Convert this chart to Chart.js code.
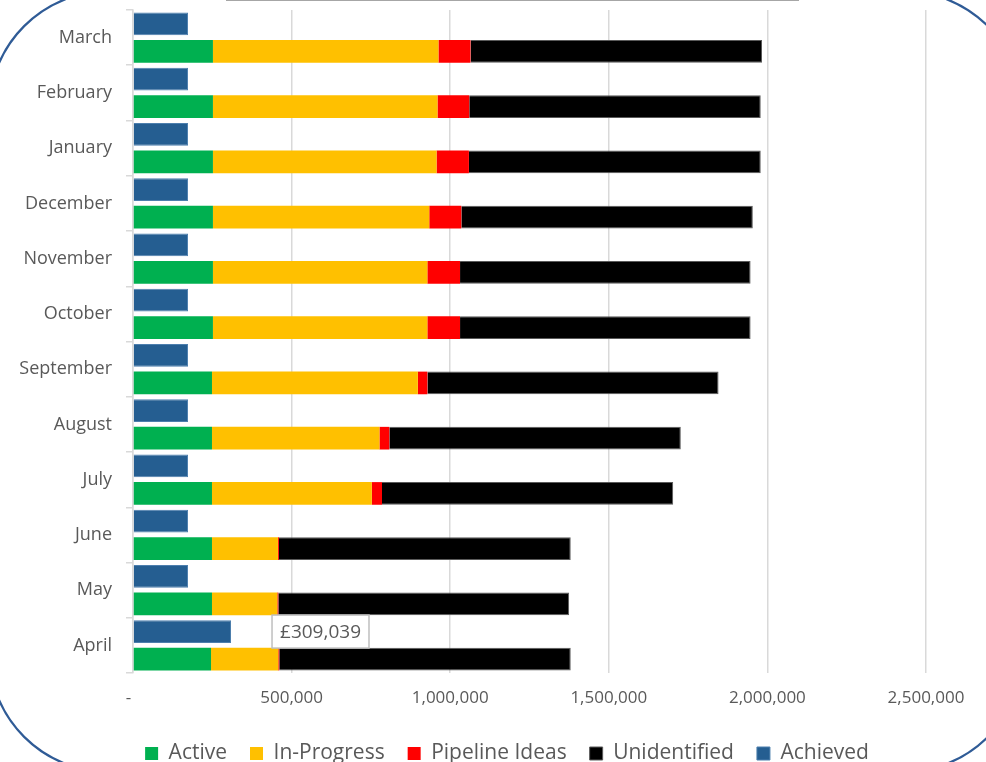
<!DOCTYPE html>
<html>
<head>
<meta charset="utf-8">
<script src="https://cdn.jsdelivr.net/npm/chart.js@4.4.1/dist/chart.umd.min.js"></script>
<style>
  html, body { margin: 0; padding: 0; background: #fff; }
  #wrap { position: relative; width: 986px; height: 762px; }
</style>
</head>
<body>
<div id="wrap"><canvas id="targetChart"></canvas></div>
<script>
const months = ["April", "May", "June", "July", "August", "September", "October", "November", "December", "January", "February", "March"];

const active = [246000, 249000, 249000, 249000, 249000, 249000, 252000, 252000, 252000, 252000, 252000, 252000];
const inProgress = [212000, 206000, 208000, 504000, 528000, 649000, 676000, 676000, 682000, 705000, 708000, 711000];
const pipelineIdeas = [3000, 3000, 3000, 32000, 31000, 30000, 103000, 103000, 101000, 102000, 100000, 101000];
const unidentified = [919000, 917000, 920000, 918000, 919000, 918000, 916000, 916000, 919000, 920000, 919000, 919000];
const achieved = [309039, 173500, 173500, 173500, 173500, 173500, 173500, 173500, 173500, 173500, 173500, 173500];

const xTicks = [0, 500000, 1000000, 1500000, 2000000, 2500000];

const textColor = '#595959';
const gridColor = '#d9d9d9';

window.onload = function() {
  // page frame: rounded outline and the top rule
  const framePlugin = {
    id: 'frame',
    beforeDraw(chart) {
      const ctx = chart.ctx;
      ctx.save();
      ctx.fillStyle = '#fff';
      ctx.fillRect(0, 0, chart.width, chart.height);
      ctx.strokeStyle = '#2f5b96';
      ctx.lineWidth = 2.2;
      ctx.beginPath();
      ctx.roundRect(-11, -9, 1034, 781, 120);
      ctx.stroke();
      ctx.strokeStyle = '#a6a6a6';
      ctx.lineWidth = 2;
      ctx.beginPath();
      ctx.moveTo(226, 0);
      ctx.lineTo(799, 0);
      ctx.stroke();
      ctx.restore();
    },
    afterLayout(chart) {
      const lg = chart.legend;
      lg.left = 28;
      lg.right = 986;
      lg.top += 12;
      lg.bottom += 12;
    }
  };

  // callout for April's achieved value
  const calloutPlugin = {
    id: 'callout',
    afterDatasetsDraw(chart) {
      const ctx = chart.ctx;
      const bar = chart.getDatasetMeta(4).data[0];
      const text = '£' + achieved[0].toLocaleString('en-GB');
      ctx.save();
      ctx.font = '19px "Open Sans"';
      const w = ctx.measureText(text).width + 16;
      const h = 33;
      const x = bar.x + 41;
      const y = bar.y - h / 2;
      ctx.fillStyle = '#fff';
      ctx.fillRect(x, y, w, h);
      ctx.strokeStyle = '#bfbfbf';
      ctx.lineWidth = 1.5;
      ctx.strokeRect(x, y, w, h);
      ctx.fillStyle = textColor;
      ctx.textAlign = 'center';
      ctx.textBaseline = 'middle';
      ctx.fillText(text, x + w / 2, y + h / 2 + 1);
      ctx.restore();
    }
  };

  const ctx = document.getElementById('targetChart').getContext('2d');

  new Chart(ctx, {
    type: 'bar',
    data: {
      labels: months,
      datasets: [
        { label: 'Active', data: active, backgroundColor: '#00b050', stack: 'plan', order: 1 },
        { label: 'In-Progress', data: inProgress, backgroundColor: '#ffc000', stack: 'plan', order: 1 },
        { label: 'Pipeline Ideas', data: pipelineIdeas, backgroundColor: '#ff0000', stack: 'plan', order: 1 },
        { label: 'Unidentified', data: unidentified, backgroundColor: '#000000', borderColor: '#5a5a5a', borderWidth: 1, stack: 'plan', order: 1 },
        { label: 'Achieved', data: achieved, backgroundColor: '#255e91', borderColor: '#4d7fae', borderWidth: 1, stack: 'done', order: 0 },
      ],
    },
    options: {
      indexAxis: 'y',
      responsive: true,
      maintainAspectRatio: false,
      animation: false,
      categoryPercentage: 1.0,
      barPercentage: 0.82,
      layout: { padding: { top: 10, left: 0, right: 60, bottom: 0 } },
      scales: {
        x: {
          stacked: true,
          min: 0,
          max: 2500000,
          afterBuildTicks: function(scale) {
            scale.ticks = xTicks.map(v => ({ value: v }));
          },
          afterFit: function(scale) { scale.height = 35; },
          ticks: {
            color: textColor,
            font: { family: 'Open Sans', size: 17 },
            padding: 15,
            maxRotation: 0,
            callback: function(v) {
              return v === 0 ? '-  ' : v.toLocaleString('en-GB');
            },
          },
          grid: { color: gridColor, lineWidth: 1.5, drawTicks: false },
          border: { display: false },
        },
        y: {
          stacked: true,
          reverse: true,
          afterFit: function(scale) {
            scale.width = 133;
            scale.paddingTop = 0;
            scale.paddingBottom = 0;
          },
          ticks: {
            color: textColor,
            font: { family: 'Open Sans', size: 18 },
            padding: 14,
          },
          grid: { drawOnChartArea: false, tickLength: 7, color: gridColor, lineWidth: 1.5 },
          border: { color: gridColor, width: 1.5 },
        },
      },
      plugins: {
        tooltip: { enabled: false },
        legend: {
          display: true,
          position: 'bottom',
          labels: {
            color: textColor,
            font: { family: 'Open Sans', size: 21 },
            boxWidth: 13,
            boxHeight: 13,
            padding: 23,
            sort: (a, b) => a.datasetIndex - b.datasetIndex,
          },
        },
      },
    },
    plugins: [framePlugin, calloutPlugin],
  });
};
</script>
</body>
</html>
